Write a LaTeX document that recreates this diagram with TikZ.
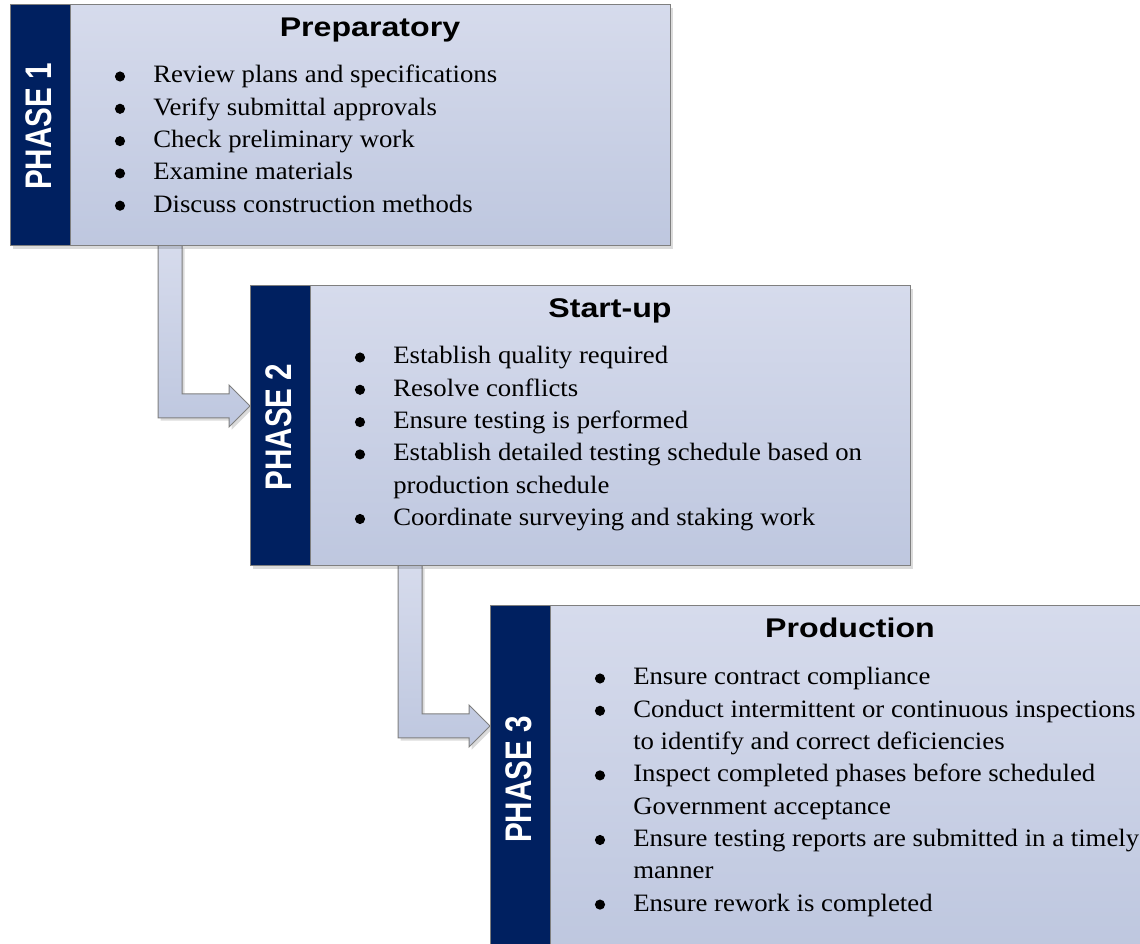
\documentclass[tikz,border=0pt]{standalone}
\usepackage{fontspec}
\setmainfont{Liberation Serif}
\newfontfamily\listfont[FakeStretch=1.07]{Liberation Serif}
\newfontfamily\titlefont[FakeStretch=1.19]{Liberation Sans Bold}
\newfontfamily\phasefont[FakeStretch=0.8]{Liberation Sans Bold}
\usetikzlibrary{calc,shadows}
\definecolor{navy}{HTML}{002060}
\definecolor{boxtop}{HTML}{D6DBEC}
\definecolor{boxbot}{HTML}{BEC7DF}
\definecolor{edgegray}{HTML}{7F7F7F}
\pgfdeclarelayer{bg}
\pgfsetlayers{bg,main}
\tikzset{
  softshadow/.style={drop shadow={shadow xshift=2pt, shadow yshift=-2pt, fill=black, opacity=0.14}},
  strip/.style={draw=edgegray, line width=0.75pt, fill=navy, inner sep=0, outer sep=0,
    anchor=north west, minimum width=45pt, softshadow},
  panel/.style={draw=edgegray, line width=0.75pt, top color=boxtop, bottom color=boxbot,
    inner sep=0, outer sep=0, anchor=north west, minimum width=450pt, softshadow},
  phaselabel/.style={text=white, font=\phasefont\fontsize{27.75pt}{30pt}\selectfont, rotate=90, inner sep=0},
  titletext/.style={font=\titlefont\fontsize{20.25pt}{24pt}\selectfont, anchor=base, inner sep=0},
  itemtext/.style={font=\listfont\fontsize{18.75pt}{24pt}\selectfont, anchor=base west, inner sep=0},
  bulletdot/.style={circle, fill=black, inner sep=0, minimum size=7.6pt},
  flow/.style={draw=edgegray, line width=0.75pt, top color=boxtop, bottom color=boxbot, softshadow},
}
\begin{document}
\begin{tikzpicture}[x=0.75pt,y=-0.75pt]
\useasboundingbox (0,0) rectangle (1140,944);
\clip (0,0) rectangle (1140,944);

% Phase 1
\node[strip, minimum height=180.75pt] (s1) at (10,5) {};
\node[panel, minimum height=180.75pt] (b1) at (70,5) {};
\node[phaselabel] (p1) at ($(s1.center)+(-1,1)$) {PHASE 1};
\node[titletext] (t1) at ($(b1.north)+(0,32)$) {Preparatory};
\foreach \b/\txt [count=\k] in {1/Review plans and specifications,1/Verify submittal approvals,1/Check preliminary work,1/Examine materials,1/Discuss construction methods}{
  \ifnum\b=1 \node[bulletdot] (d1-\k) at ($(b1.north west)+(50,{71.5+32.3*(\k-1)})$) {};\fi
  \node[itemtext] (i1-\k) at ($(b1.north west)+(83,{78+32.3*(\k-1)})$) {\txt};
}

% Phase 2
\node[strip, minimum height=210pt] (s2) at (250,286) {};
\node[panel, minimum height=210pt] (b2) at (310,286) {};
\node[phaselabel] (p2) at ($(s2.center)+(-1,1)$) {PHASE 2};
\node[titletext] (t2) at ($(b2.north)+(0,32)$) {Start-up};
\foreach \b/\txt [count=\k] in {1/Establish quality required,1/Resolve conflicts,1/Ensure testing is performed,1/Establish detailed testing schedule based on,0/production schedule,1/Coordinate surveying and staking work}{
  \ifnum\b=1 \node[bulletdot] (d2-\k) at ($(b2.north west)+(50,{71.5+32.3*(\k-1)})$) {};\fi
  \node[itemtext] (i2-\k) at ($(b2.north west)+(83,{78+32.3*(\k-1)})$) {\txt};
}

% Phase 3
\node[strip, minimum height=258.75pt] (s3) at (490,606) {};
\node[panel, minimum height=258.75pt] (b3) at (550,606) {};
\node[phaselabel] (p3) at ($(s3.center)+(-1,1)$) {PHASE 3};
\node[titletext] (t3) at ($(b3.north)+(0,32)$) {Production};
\foreach \b/\txt [count=\k] in {1/Ensure contract compliance,1/Conduct intermittent or continuous inspections,0/to identify and correct deficiencies,1/Inspect completed phases before scheduled,0/Government acceptance,1/Ensure testing reports are submitted in a timely,0/manner,1/Ensure rework is completed}{
  \ifnum\b=1 \node[bulletdot] (d3-\k) at ($(b3.north west)+(50,{72.5+32.3*(\k-1)})$) {};\fi
  \node[itemtext] (i3-\k) at ($(b3.north west)+(83,{79+32.3*(\k-1)})$) {\txt};
}

% Connectors
\coordinate (h1) at ($(s2.north west)+(0,120)$);
\coordinate (h2) at ($(s3.north west)+(0,120)$);
\begin{pgfonlayer}{bg}
\draw[flow] ($(b1.south west)+(88,0)$) |- ($(h1)+(-21,12)$) -- ($(h1)+(-21,21)$) -- (h1)
  -- ($(h1)+(-21,-21)$) -- ($(h1)+(-21,-12)$) -| ($(b1.south west)+(112,0)$);
\draw[flow] ($(b2.south west)+(88,0)$) |- ($(h2)+(-21,12)$) -- ($(h2)+(-21,21)$) -- (h2)
  -- ($(h2)+(-21,-21)$) -- ($(h2)+(-21,-12)$) -| ($(b2.south west)+(112,0)$);
\end{pgfonlayer}
\end{tikzpicture}
\end{document}
